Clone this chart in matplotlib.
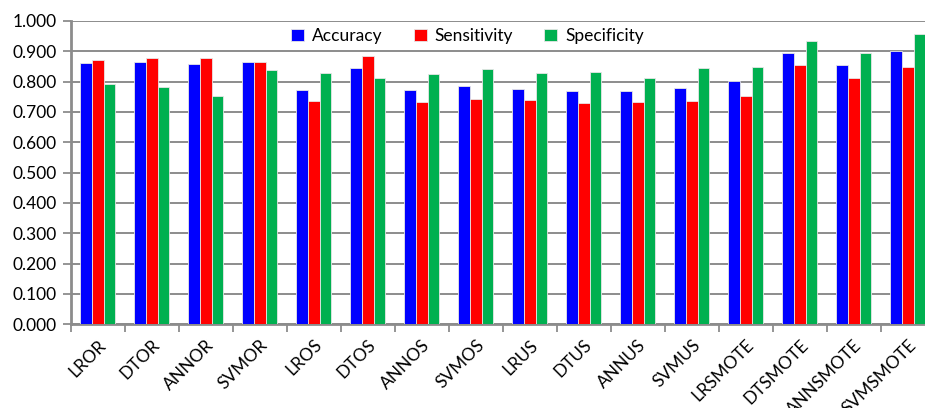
import matplotlib
matplotlib.use("Agg")
import matplotlib.pyplot as plt
import numpy as np

categories = ["LROR", "DTOR", "ANNOR", "SVMOR", "LROS", "DTOS", "ANNOS", "SVMOS",
              "LRUS", "DTUS", "ANNUS", "SVMUS", "LRSMOTE", "DTSMOTE", "ANNSMOTE", "SVMSMOTE"]
accuracy = [0.863, 0.865, 0.859, 0.865, 0.773, 0.844, 0.771, 0.786,
            0.775, 0.769, 0.768, 0.779, 0.802, 0.896, 0.854, 0.902]
sensitivity = [0.872, 0.877, 0.877, 0.866, 0.736, 0.885, 0.732, 0.744,
               0.738, 0.730, 0.734, 0.736, 0.753, 0.855, 0.812, 0.848]
specificity = [0.793, 0.781, 0.753, 0.838, 0.827, 0.812, 0.826, 0.842,
               0.829, 0.832, 0.813, 0.845, 0.848, 0.933, 0.896, 0.958]
series_names = ["Accuracy", "Sensitivity", "Specificity"]
yticks = [0.0, 0.1, 0.2, 0.3, 0.4, 0.5, 0.6, 0.7, 0.8, 0.9, 1.0]

plt.rcParams['font.family'] = ['Lato', 'DejaVu Sans']

fig = plt.figure(figsize=(9.25, 4.08), dpi=100)
ax = fig.add_axes([70.7/925, 83.7/408, 864/925, 303.3/408])

x = np.arange(len(categories))
w = 0.216
colors = ["#0000FF", "#FF0000", "#00B050"]
for i, (vals, name) in enumerate(zip([accuracy, sensitivity, specificity], series_names)):
    ax.bar(x + (i - 1) * w, vals, width=w, color=colors[i], edgecolor="#e6e6e6",
           linewidth=0.6, label=name, zorder=3)

ax.set_xlim(-0.5, len(categories) - 0.5)
ax.set_ylim(0, 1.0)
ax.set_yticks(yticks)
ax.set_yticklabels([f"{v:.3f}" for v in yticks], fontsize=12.5)
ax.yaxis.grid(True, color="#8c8c8c", linewidth=1.4, zorder=0)
ax.set_axisbelow(True)

ax.set_xticks(x)
ax.set_xticklabels(categories, rotation=45, ha="right", rotation_mode="anchor", fontsize=12.5)
ax.tick_params(axis="x", length=0, pad=9)
ax.set_xticks(np.arange(-0.5, len(categories)), minor=True)
ax.tick_params(axis="x", which="minor", length=6, width=1.3, color="#8c8c8c")
ax.tick_params(axis="y", length=6, width=1.3, color="#8c8c8c", pad=4)

for s in ["top", "right"]:
    ax.spines[s].set_visible(False)
for s in ["left", "bottom"]:
    ax.spines[s].set_color("#8c8c8c")
    ax.spines[s].set_linewidth(2)

leg = ax.legend(loc="center", bbox_to_anchor=(0.459, 0.95), ncol=3, frameon=False,
                fontsize=12.5, handlelength=0.75, handleheight=0.75, columnspacing=1.8,
                handletextpad=0.45, borderpad=0.3)

fig.savefig("out.png", dpi=100)
